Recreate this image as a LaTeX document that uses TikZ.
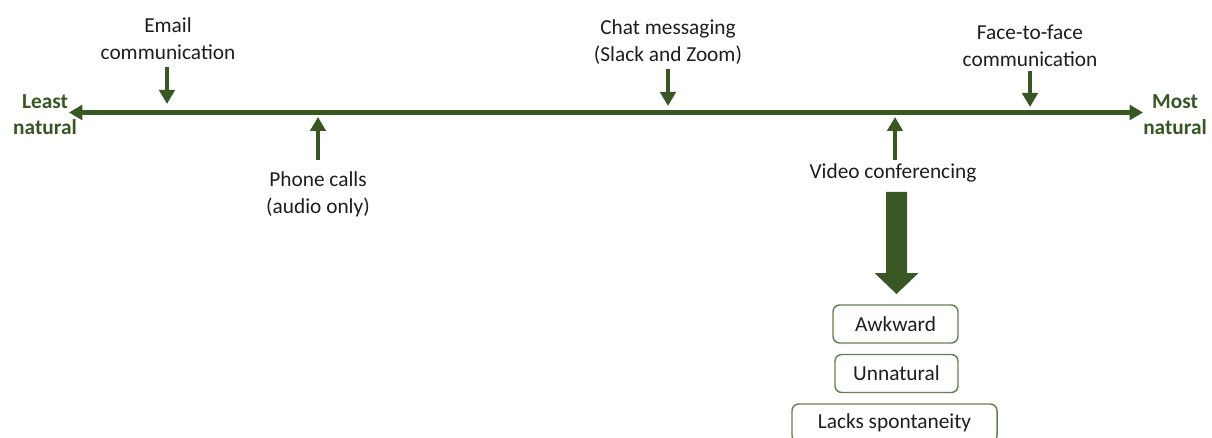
\documentclass[tikz,border=0pt]{standalone}
\usepackage{fontspec}
\setmainfont{Carlito}
\usetikzlibrary{arrows.meta}
\definecolor{dgreen}{RGB}{56,87,35}
\definecolor{bgreen}{RGB}{100,130,80}
\definecolor{txt}{RGB}{30,30,30}
\begin{document}
\begin{tikzpicture}[x=0.75pt,y=-0.75pt,
  lbl/.style={font=\fontsize{16}{20.25}\selectfont, text=txt, align=center, inner sep=0pt},
  endlbl/.style={font=\fontsize{16}{19.5}\selectfont\bfseries, text=dgreen, align=center, inner sep=0pt},
  pointer/.style={draw=dgreen, line width=3pt, -{Triangle[width=11.5pt,length=10.5pt]}},
  axis/.style={draw=dgreen, line width=3.4pt, {Triangle[width=11pt,length=10pt]}-{Triangle[width=11pt,length=10pt]}},
  tagbox/.style={draw=bgreen, line width=1.1pt, rounded corners=5pt, font=\fontsize{16}{19}\selectfont, text=txt, minimum height=28.5pt, inner xsep=6pt}
]
\useasboundingbox (0,0) rectangle (1212,438);
\fill[white] (0,0) rectangle (1212,438);

% axis
\coordinate (L) at (69,112.5);
\coordinate (R) at (1143,112.5);
\draw[axis] (L) -- (R);
\node[endlbl] (least) at (45,115) {Least\\natural};
\node[endlbl] (most) at (1175,115) {Most\\natural};

% labels
\node[lbl] (email) at (168,39) {Email\\communication};
\node[lbl] (chat) at (668,42) {Chat messaging\\(Slack and Zoom)};
\node[lbl] (face) at (1030,46) {Face-to-face\\communication};
\node[lbl] (phone) at (318,194) {Phone calls\\(audio only)};
\node[lbl] (video) at (893,173) {Video conferencing};

% pointer coordinates
\coordinate (e1) at (167,67); \coordinate (e2) at (167,104);
\coordinate (c1) at (668,69); \coordinate (c2) at (668,106);
\coordinate (f1) at (1030,71); \coordinate (f2) at (1030,107);
\coordinate (p1) at (318,160); \coordinate (p2) at (318,117);
\coordinate (v1) at (895,160); \coordinate (v2) at (895,117);
\draw[pointer] (e1) -- (e2);
\draw[pointer] (c1) -- (c2);
\draw[pointer] (f1) -- (f2);
\draw[pointer] (p1) -- (p2);
\draw[pointer] (v1) -- (v2);

% big arrow
\coordinate (bigtop) at (896.5,192);
\coordinate (bigtip) at (896.5,294);
\fill[dgreen] ([xshift=-10.5*0.75pt]bigtop) -- ([xshift=10.5*0.75pt]bigtop)
  -- (907,273) -- (918.5,273) -- (bigtip) -- (874.5,273) -- (886,273) -- cycle;

% boxes
\node[tagbox, minimum width=93.75pt] (awk) at (895.5,324) {Awkward};
\node[tagbox, minimum width=92.25pt] (unn) at (896.5,373.5) {Unnatural};
\node[tagbox, minimum width=153.75pt] (lacks) at (894.5,423) {Lacks spontaneity};
\end{tikzpicture}
\end{document}
